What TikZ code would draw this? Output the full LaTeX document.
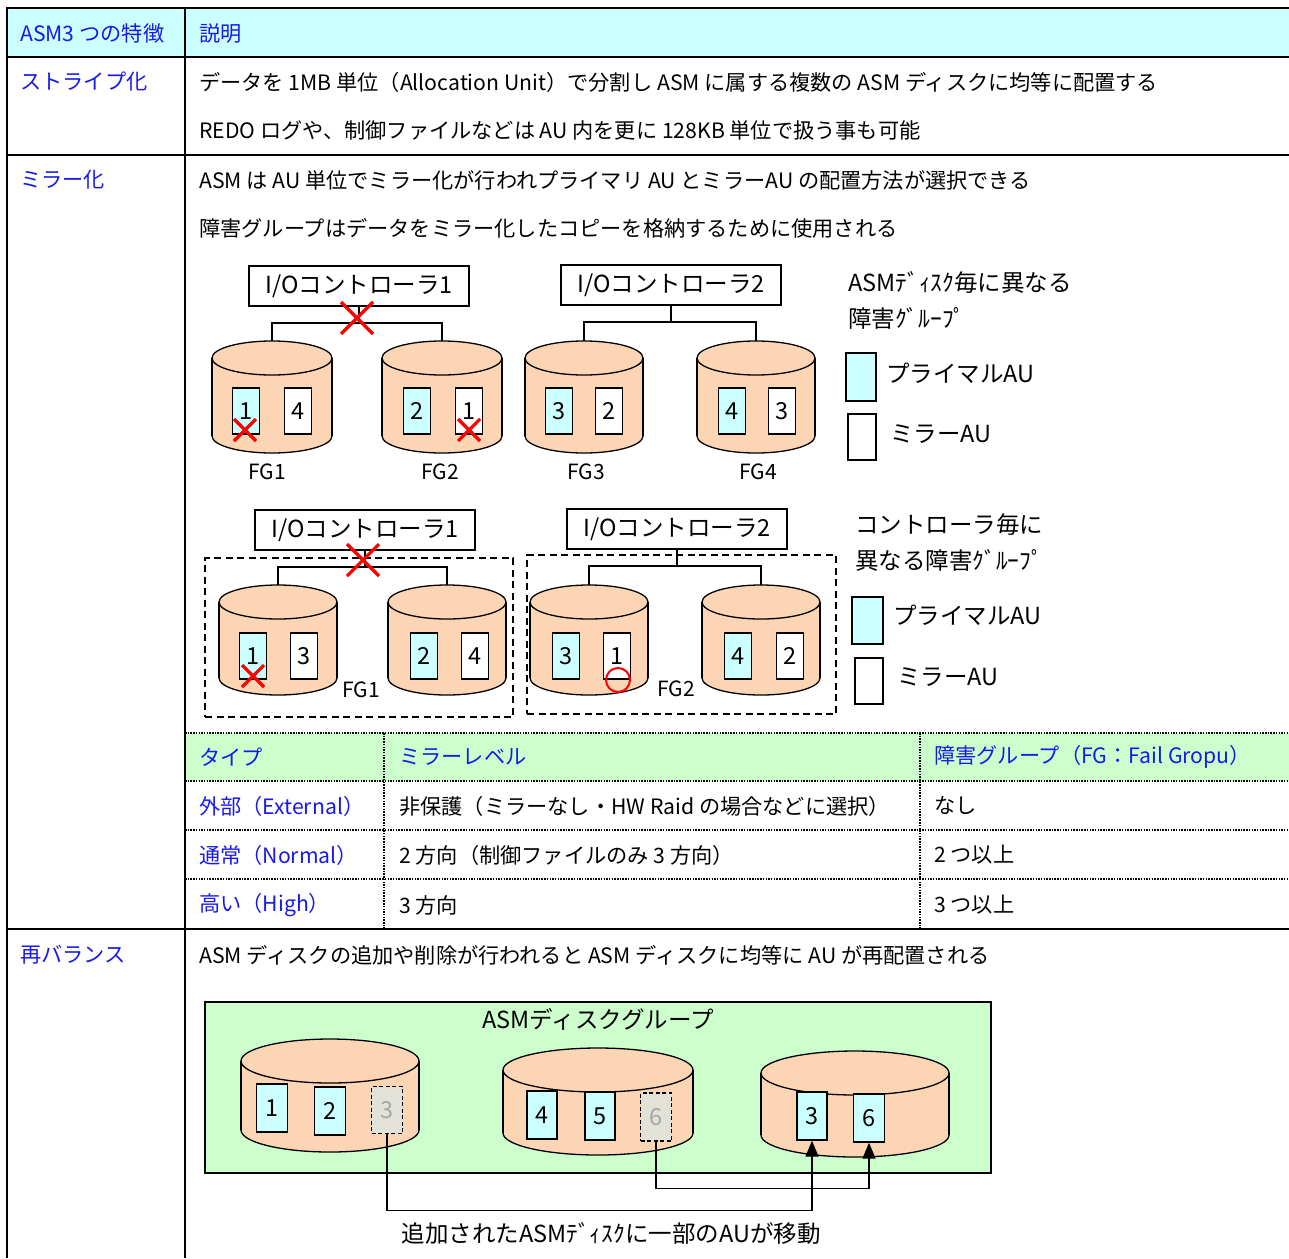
\documentclass[tikz,border=0pt]{standalone}
\usepackage{fontspec}
\setmainfont{Noto Sans CJK JP}
\newfontfamily\figfont{Noto Sans CJK JP}
\usetikzlibrary{arrows.meta}

\definecolor{headcyan}{RGB}{204,255,255}
\definecolor{headgreen}{RGB}{204,255,204}
\definecolor{linkblue}{RGB}{25,25,235}
\definecolor{diskpeach}{RGB}{252,213,180}
\definecolor{ghostgrey}{RGB}{226,226,216}

\newcommand{\bodysize}{\fontsize{21.2}{24}\selectfont}
\newcommand{\figsize}{\fontsize{23.5}{27}\selectfont}

% centre x, top y, half width, height, cap radius
\newcommand{\asmdisk}[5]{%
  \filldraw[fill=diskpeach,line width=1.3pt] (#1,#2+#4-#5) ellipse [x radius=#3pt,y radius=#5pt];
  \fill[diskpeach] (#1-#3,#2+#5) rectangle (#1+#3,#2+#4-#5);
  \draw[line width=1.3pt] (#1-#3,#2+#5) -- (#1-#3,#2+#4-#5) (#1+#3,#2+#5) -- (#1+#3,#2+#4-#5);
  \filldraw[fill=diskpeach,line width=1.3pt] (#1,#2+#5) ellipse [x radius=#3pt,y radius=#5pt];}

% red cross: centre x, centre y, half size
\newcommand{\failmark}[3]{%
  \draw[red,line width=3.2pt] (#1-#3,#2-#3) -- (#1+#3,#2+#3) (#1-#3,#2+#3) -- (#1+#3,#2-#3);}

\begin{document}
\begin{tikzpicture}[x=1pt,y=-1pt,
    cell/.style={anchor=west,inner sep=0pt,font=\bodysize},
    head/.style={cell,text=linkblue},
    rule/.style={line width=2.6pt},
    dotrule/.style={line width=2.2pt,dash pattern=on 1.5pt off 1.2pt},
    ctrl/.style={draw,line width=1.3pt,fill=white,minimum width=220pt,minimum height=40pt,inner sep=0pt,font=\figfont\figsize},
    pau/.style={draw,line width=1.3pt,fill=headcyan,minimum width=27pt,minimum height=46pt,inner sep=0pt,font=\figfont\figsize},
    mau/.style={pau,fill=white},
    gau/.style={pau,dash pattern=on 4pt off 2.5pt,fill=ghostgrey,text=black!35},
    fglabel/.style={inner sep=0pt,font=\figfont\fontsize{21}{24}\selectfont},
    note/.style={anchor=west,inner sep=0pt,font=\figfont\figsize},
    bus/.style={line width=1.3pt},
    fgbox/.style={draw,dash pattern=on 7pt off 4.5pt,line width=1.5pt},
    move/.style={line width=1.3pt,-{Triangle[length=16pt,width=13pt]}}]

  \useasboundingbox (0,0) rectangle (1289,1258);

  % table backgrounds
  \fill[headcyan] (7,8) rectangle (1289,57);
  \fill[headgreen] (185,733) rectangle (1289,781);

  % outer grid
  \draw[rule] (1289,8) -- (7,8) -- (7,1258);
  \draw[rule] (185,8) -- (185,1258);
  \foreach \y in {57,155,929}
    \draw[rule] (7,\y) -- (1289,\y);

  % inner mirror level table
  \foreach \y in {733,781,830,879}
    \draw[dotrule] (185,\y) -- (1289,\y);
  \foreach \x in {384,920}
    \draw[dotrule] (\x,733) -- (\x,929);

  % texts of the grid
  \node[head] (h1) at (20,33) {ASM3 つの特徴};
  \node[head] (h2) at (199,33) {説明};
  \node[head] (s1) at (20,82) {ストライプ化};
  \node[cell] (s1a) at (199,82) {データを 1MB 単位（Allocation Unit）で分割し ASM に属する複数の ASM ディスクに均等に配置する};
  \node[cell] (s1b) at (199,130) {REDO ログや、制御ファイルなどは AU 内を更に 128KB 単位で扱う事も可能};
  \node[head] (s2) at (20,180) {ミラー化};
  \node[cell] (s2a) at (199,180) {ASM は AU 単位でミラー化が行われプライマリ AU とミラーAU の配置方法が選択できる};
  \node[cell] (s2b) at (199,228) {障害グループはデータをミラー化したコピーを格納するために使用される};

  \node[head] (t0a) at (199,757) {タイプ};
  \node[head] (t0b) at (399,757) {ミラーレベル};
  \node[head] (t0c) at (934,757) {障害グループ（FG：Fail Gropu）};
  \node[head] (t1a) at (199,806) {外部（External）};
  \node[cell] (t1b) at (399,806) {非保護（ミラーなし・HW Raid の場合などに選択）};
  \node[cell] (t1c) at (934,806) {なし};
  \node[head] (t2a) at (199,855) {通常（Normal）};
  \node[cell] (t2b) at (399,855) {2 方向（制御ファイルのみ 3 方向）};
  \node[cell] (t2c) at (934,855) {2 つ以上};
  \node[head] (t3a) at (199,905) {高い（High）};
  \node[cell] (t3b) at (399,905) {3 方向};
  \node[cell] (t3c) at (934,905) {3 つ以上};

  \node[head] (s3) at (20,955) {再バランス};
  \node[cell] (s3a) at (199,955) {ASM ディスクの追加や削除が行われると ASM ディスクに均等に AU が再配置される};

  % ---- failure group per disk
  \node[ctrl] (ctrlA) at (359,286) {I/Oコントローラ1};
  \node[ctrl] (ctrlB) at (671,285) {I/Oコントローラ2};
  \asmdisk{272}{341}{60}{112}{17}
  \asmdisk{442}{341}{60}{112}{17}
  \asmdisk{584}{341}{59}{112}{17}
  \asmdisk{756}{341}{59}{112}{17}
  \coordinate (d1) at (272,341);
  \coordinate (d2) at (442,341);
  \coordinate (d3) at (584,341);
  \coordinate (d4) at (756,341);
  \coordinate (busA) at (359,323);
  \coordinate (busB) at (671,322);
  \draw[bus] (ctrlA) -- (busA);
  \draw[bus] (d1) |- (busA) -| (d2);
  \draw[bus] (ctrlB) -- (busB);
  \draw[bus] (d3) |- (busB) -| (d4);
  \failmark{357}{318}{16}

  \node[pau] (u11) at (246,411) {1};
  \node[mau] (u12) at (298,411) {4};
  \node[pau] (u21) at (417,411) {2};
  \node[mau] (u22) at (469,411) {1};
  \node[pau] (u31) at (559,411) {3};
  \node[mau] (u32) at (609,411) {2};
  \node[pau] (u41) at (732,411) {4};
  \node[mau] (u42) at (782,411) {3};
  \failmark{245}{430}{11}
  \failmark{469}{430}{11}

  \node[fglabel] (fg1) at (267,472) {FG1};
  \node[fglabel] (fg2) at (440,472) {FG2};
  \node[fglabel] (fg3) at (586,472) {FG3};
  \node[fglabel] (fg4) at (758,472) {FG4};

  \node[note] (n1) at (848,282) {ASMﾃﾞｨｽｸ毎に異なる};
  \node[note] (n2) at (848,318) {障害ｸﾞﾙｰﾌﾟ};
  \node[pau,minimum width=30pt,minimum height=48pt] (k1) at (861,377) {};
  \node[note] (k1t) at (886,373) {プライマルAU};
  \node[mau,minimum width=28pt,minimum height=46pt] (k2) at (862,437) {};
  \node[note] (k2t) at (890,434) {ミラーAU};

  % ---- failure group per controller
  \node[fgbox,minimum width=308pt,minimum height=159pt] (grp1) at (359,637.5) {};
  \node[fgbox,minimum width=309pt,minimum height=159pt] (grp2) at (681.5,634.5) {};
  \node[ctrl] (ctrlC) at (365,530) {I/Oコントローラ1};
  \node[ctrl] (ctrlD) at (677,529) {I/Oコントローラ2};
  \asmdisk{278}{585}{59}{110}{17}
  \asmdisk{447}{585}{59}{110}{17}
  \asmdisk{589}{585}{59}{110}{17}
  \asmdisk{761}{585}{59}{110}{17}
  \coordinate (e1) at (278,585);
  \coordinate (e2) at (447,585);
  \coordinate (e3) at (589,585);
  \coordinate (e4) at (761,585);
  \coordinate (busC) at (365,567);
  \coordinate (busD) at (677,566);
  \draw[bus] (ctrlC) -- (busC);
  \draw[bus] (e1) |- (busC) -| (e2);
  \draw[bus] (ctrlD) -- (busD);
  \draw[bus] (e3) |- (busD) -| (e4);
  \failmark{363}{560}{16}

  \node[pau] (v11) at (253,656) {1};
  \node[mau] (v12) at (304,656) {3};
  \node[pau] (v21) at (424,656) {2};
  \node[mau] (v22) at (475,656) {4};
  \node[pau] (v31) at (566,656) {3};
  \node[mau] (v32) at (617,656) {1};
  \node[pau] (v41) at (738,656) {4};
  \node[mau] (v42) at (790,656) {2};
  \failmark{253}{676}{11}
  \draw[red,line width=2pt] (618,680) ellipse [x radius=12pt,y radius=12pt];

  \node[fglabel] (fg5) at (361,690) {FG1};
  \node[fglabel] (fg6) at (676,689) {FG2};

  \node[note] (n3) at (855,525) {コントローラ毎に};
  \node[note] (n4) at (855,560) {異なる障害ｸﾞﾙｰﾌﾟ};
  \node[pau,minimum width=31pt,minimum height=47pt] (k3) at (867.5,620.5) {};
  \node[note] (k3t) at (893,615) {プライマルAU};
  \node[mau,minimum width=28pt,minimum height=46pt] (k4) at (869,681) {};
  \node[note] (k4t) at (897,677) {ミラーAU};

  % ---- rebalance
  \node[draw,line width=1.8pt,fill=headgreen,minimum width=786pt,minimum height=171pt,inner sep=0pt] (dg) at (598,1087.5) {};
  \node[inner sep=0pt,font=\figfont\figsize] (dgt) at (598,1019) {ASMディスクグループ};
  \asmdisk{330}{1039}{89}{113}{22}
  \asmdisk{598}{1048}{95}{107}{22}
  \asmdisk{855}{1051}{94}{106}{22}

  \node[pau,minimum width=31pt,minimum height=48pt] (r1) at (272,1108) {1};
  \node[pau,minimum width=31pt,minimum height=48pt] (r2) at (330,1111) {2};
  \node[gau,minimum width=31pt,minimum height=47pt] (r3) at (387,1110) {3};
  \node[pau,minimum width=30pt,minimum height=48pt] (r4) at (542,1115) {4};
  \node[pau,minimum width=30pt,minimum height=48pt] (r5) at (600,1116) {5};
  \node[gau,minimum width=31pt,minimum height=48pt] (r6) at (656,1117) {6};
  \node[pau,minimum width=30pt,minimum height=48pt] (n3au) at (812,1116) {3};
  \node[pau,minimum width=31pt,minimum height=48pt] (n6au) at (869,1118) {6};

  \draw[move] (r3.south) -- ++(0,76) -| (n3au.south);
  \draw[move] (r6.south) -- ++(0,47) -| (n6au.south);

  \node[inner sep=0pt,font=\figfont\figsize] (mv) at (611,1233) {追加されたASMﾃﾞｨｽｸに一部のAUが移動};
\end{tikzpicture}
\end{document}
